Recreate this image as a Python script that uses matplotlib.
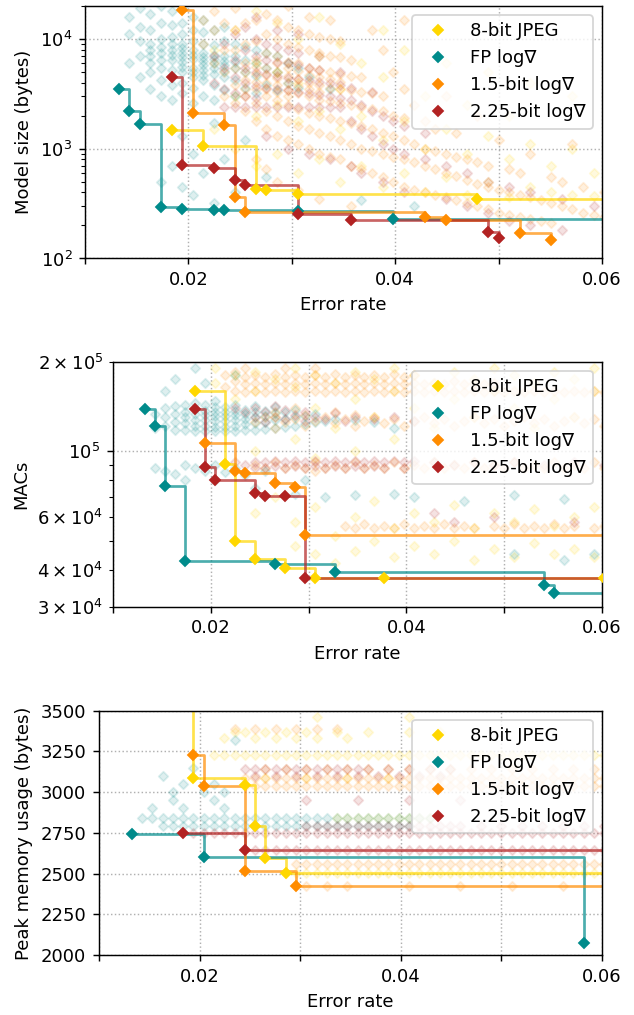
import matplotlib
matplotlib.use("Agg")
import matplotlib.pyplot as plt

DPI = 130
N_TEST = 980  # error rate = number of errors / N_TEST

labels = ["8-bit JPEG", "FP log\u2207", "1.5-bit log\u2207", "2.25-bit log\u2207"]
colors = ["#ffd700", "#008b8b", "#ff8c00", "#b22222"]

# ---------------- Pareto fronts (error counts, values) ----------------
# Model size (bytes)
size_jpeg_err = [18, 21, 26, 27, 30, 47]
size_jpeg_val = [1470, 1050, 429, 423, 386, 350]
size_fp_err = [13, 14, 15, 17, 19, 22, 23, 30, 39]
size_fp_val = [3500, 2190, 1680, 294, 282, 278, 278, 273, 230]
size_b15_err = [19, 20, 23, 24, 25, 42, 44, 51, 54]
size_b15_val = [18200, 2140, 1640, 367, 267, 238, 222, 170, 148]
size_b225_err = [18, 19, 22, 24, 25, 30, 35, 48, 49]
size_b225_val = [4470, 705, 662, 514, 467, 253, 222, 174, 154]
size_line_end = [62, 62, 54, 49]

# MACs (thousands)
macs_jpeg_err = [18, 21, 22, 24, 27, 30, 37, 59]
macs_jpeg_val = [160, 90.6, 50.0, 43.3, 40.4, 37.5, 37.5, 37.5]
macs_fp_err = [13, 14, 15, 17, 26, 32, 53, 54]
macs_fp_val = [138.7, 121.5, 76.4, 42.8, 41.8, 39.3, 35.6, 33.3]
macs_b15_err = [19, 22, 23, 26, 28, 29]
macs_b15_val = [106.4, 86.0, 84.3, 78.3, 76.0, 52.4]
macs_b225_err = [18, 19, 20, 24, 25, 27, 29]
macs_b225_val = [138.7, 88.3, 80.0, 72.6, 70.5, 70.5, 37.5]
macs_line_end = [62, 62, 62, 62]

# Peak memory usage (bytes)
mem_jpeg_err = [18, 19, 24, 25, 26, 28]
mem_jpeg_val = [3700, 3086, 3046, 2791, 2597, 2506]
mem_fp_err = [13, 20, 57]
mem_fp_val = [2746, 2601, 2072]
mem_b15_err = [19, 20, 24, 29]
mem_b15_val = [3225, 3035, 2516, 2424]
mem_b225_err = [18, 24]
mem_b225_val = [2750, 2644]
mem_line_end = [62, 57, 62, 62]

# ---------------- all evaluated models (faint cloud) ----------------
# model size: error count -> sizes
size_jpeg_cloud = {
    22: [1500, 8000], 24: [1000, 3000, 12000], 26: [700, 2000, 6000, 18000],
    28: [900, 2500, 5000, 14000], 30: [600, 1800, 4000, 10000],
    32: [800, 2200, 7000, 16000], 34: [500, 1500, 3500, 9000],
    36: [700, 2000, 6000], 38: [450, 1200, 4500, 12000], 40: [600, 1800, 8000],
    42: [400, 1000, 3000], 44: [550, 1500, 6000], 46: [380, 900, 2500],
    48: [500, 1300, 5000], 50: [360, 800, 2000], 52: [450, 1100, 4000],
    54: [400, 700], 56: [380, 1000, 3000], 58: [370, 600], 60: [360, 900],
}
size_fp_cloud = {
    14: [6000, 11000, 16000], 15: [4500, 7000, 9500, 13000, 19000],
    16: [3500, 5000, 7000, 9000, 12000, 17000, 6000, 8000],
    17: [3000, 4200, 5500, 7500, 10000, 14000, 20000, 500, 6500, 8500],
    18: [2800, 3800, 5200, 6500, 8000, 10500, 13500, 18000, 700, 4500, 7200, 9000],
    19: [3200, 4000, 5000, 6200, 7500, 9000, 11000, 14000, 19000, 450, 1300, 5600, 6800, 8200],
    20: [2600, 3600, 4500, 5500, 6600, 8000, 9500, 12000, 16000, 380, 900, 5000, 7200],
    21: [3000, 4200, 5200, 6300, 7500, 9000, 11500, 15000, 600, 4700, 5800, 6900],
    22: [2800, 3800, 4800, 6000, 7200, 8800, 12000, 320, 1700, 5400, 6600],
    23: [3400, 4500, 5800, 7000, 9500, 13000, 800, 5100, 6300],
    24: [3000, 4200, 5500, 7000, 9000, 400, 6200], 25: [3600, 5000, 6500, 8500, 1200],
    26: [3200, 4600, 6000, 8000], 27: [3800, 5500, 7500, 550],
    28: [3400, 5000, 7000], 29: [4000, 6000], 30: [3600, 5500, 260],
    31: [4500], 33: [3500], 36: [340], 41: [300],
}
size_b15_cloud = {
    21: [9000, 15000], 22: [6000, 12000, 18000], 23: [3000, 5000, 8000, 14000],
    24: [2600, 3800, 5500, 8000, 12000, 19000],
    25: [2200, 3000, 4200, 6000, 9000, 14000, 3500, 5000],
    26: [1800, 2600, 3500, 4800, 6500, 9500, 15000, 800, 4100, 5600],
    27: [1500, 2200, 3000, 4000, 5500, 7500, 11000, 17000, 650, 3500, 4700],
    28: [1300, 2000, 2800, 3800, 5000, 7000, 10000, 15000, 500, 3300, 4400, 6000],
    29: [1200, 1800, 2500, 3400, 4600, 6200, 9000, 13000, 20000, 3000, 4000, 5400],
    30: [1100, 1600, 2300, 3200, 4300, 6000, 8500, 12000, 420, 3700, 5100],
    31: [1000, 1500, 2100, 3000, 4000, 5500, 8000, 11000, 16000, 3500, 4700],
    32: [900, 1400, 2000, 2800, 3800, 5200, 7500, 10500, 350, 3300, 4500],
    33: [850, 1300, 1900, 2700, 3600, 5000, 7000, 10000, 15000, 4300],
    34: [800, 1200, 1800, 2600, 3500, 4800, 6800, 9500, 4100],
    35: [700, 1100, 1700, 2500, 3400, 4600, 6500, 300],
    36: [650, 1000, 1600, 2400, 3300, 4500], 37: [600, 950, 1500, 2300, 3200, 12000],
    38: [550, 900, 1400, 2200, 3000, 8000], 39: [500, 850, 1300, 2000, 5000],
    40: [450, 800, 1200, 1900, 3500, 15000], 41: [420, 750, 1100, 2500],
    42: [400, 700, 1000, 1800], 43: [380, 650, 950, 1500], 44: [360, 600, 900, 3000],
    45: [340, 560, 850, 1400], 46: [320, 520, 800], 47: [300, 480, 750, 2000],
    48: [280, 450, 700], 49: [260, 420, 1200], 50: [250, 400, 650],
    51: [240, 380, 600], 52: [230, 360, 900], 53: [220, 340], 54: [210, 320, 550],
    55: [300, 500], 56: [280, 1100], 57: [260, 450], 58: [250], 59: [240, 400],
}
size_b225_cloud = {
    22: [4000, 7000], 23: [2400, 3500, 5500, 9000], 24: [2400, 3200, 4500, 6500, 11000],
    25: [2400, 3000, 4000, 5500, 8000, 13000],
    26: [2400, 2900, 3700, 5000, 7000, 10000, 16000],
    27: [2400, 3600, 4800, 6500, 9000, 1300], 28: [2400, 3500, 4600, 6200, 8500, 12000],
    29: [2400, 3400, 4400, 6000, 8000, 1000], 30: [2400, 3300, 4300, 5800, 7500, 11000],
    31: [2400, 3200, 4200, 5500, 900], 32: [2400, 3100, 4100, 5200, 7000],
    33: [2400, 3000, 4000, 800], 34: [2400, 2900, 3800, 5000],
    35: [1800, 2800, 3600, 700], 36: [1500, 2500, 600], 37: [1300, 2200, 3300],
    38: [1100, 2000, 500], 39: [1000, 1800], 40: [900, 1600, 400], 42: [800, 1400],
    44: [700, 350], 46: [600, 300], 48: [500, 260], 50: [450, 220], 52: [400, 200],
    55: [350, 180], 58: [300],
}

# MACs (thousands): error count -> values
macs_jpeg_cloud = {
    20: [190, 170], 22: [180, 150], 24: [185, 160, 100, 62], 26: [175, 130, 70],
    28: [190, 165, 110, 58, 48], 30: [180, 140, 95, 65, 45], 32: [170, 120, 52, 42],
    34: [185, 150, 100, 60, 46], 36: [175, 130, 68, 50], 38: [190, 160, 110, 55, 44],
    40: [180, 140, 62, 48], 42: [170, 120, 58, 45], 44: [185, 150, 66, 50],
    46: [175, 130, 55, 43], 48: [190, 160, 62, 47], 50: [180, 140, 58, 44],
    52: [170, 120, 64, 49], 54: [185, 150, 56, 45], 56: [175, 130, 60, 47],
    58: [190, 160, 65, 44], 60: [180, 140, 58],
}
macs_fp_cloud = {
    14: [120, 133, 88], 15: [122, 130, 140, 160, 86], 16: [118, 125, 133, 142, 175, 84],
    17: [118, 124, 130, 136, 143, 90, 80], 18: [117, 122, 127, 133, 139, 145, 88, 190],
    19: [117, 122, 127, 132, 137, 143, 86, 170],
    20: [117, 121, 126, 131, 136, 141, 147, 90, 80],
    21: [117, 121, 126, 131, 136, 141, 85], 22: [117, 122, 127, 132, 137, 143, 88, 180],
    23: [118, 123, 128, 133, 138, 83], 24: [118, 124, 130, 136, 142, 75],
    25: [119, 125, 131, 137, 86], 26: [120, 127, 134, 141], 27: [121, 128, 135],
    28: [122, 130, 138, 72], 29: [123, 131, 80], 30: [125, 133], 31: [126, 70],
    32: [128], 34: [127, 71], 36: [125], 38: [120, 72], 40: [70], 45: [68],
    50: [71, 45], 55: [69, 43], 58: [45],
}
macs_b15_cloud = {
    21: [165, 180], 22: [160, 172, 185], 23: [158, 168, 178, 190],
    24: [160, 170, 180, 125, 90], 25: [158, 168, 178, 130, 88],
    26: [160, 170, 182, 120, 135, 92], 27: [158, 168, 178, 190, 125, 88],
    28: [160, 170, 180, 128, 140, 90], 29: [158, 168, 178, 122, 132, 88],
    30: [160, 170, 180, 190, 126, 92, 86], 31: [158, 168, 178, 130, 88],
    32: [160, 170, 182, 124, 136, 90], 33: [158, 168, 178, 128, 88, 56],
    34: [160, 170, 180, 122, 132, 92, 55], 35: [158, 168, 178, 126, 88, 57],
    36: [160, 170, 180, 130, 90, 55], 37: [158, 168, 178, 124, 88, 56],
    38: [160, 170, 182, 128, 92, 55], 39: [158, 168, 178, 122, 88, 57],
    40: [160, 170, 180, 126, 90, 55], 41: [158, 168, 130, 88, 56],
    42: [160, 170, 124, 92, 55], 43: [158, 168, 128, 88, 57],
    44: [160, 172, 122, 90, 55], 45: [158, 168, 126, 88, 56],
    46: [160, 170, 130, 92, 55], 47: [158, 168, 124, 88], 48: [160, 170, 128, 90, 56],
    49: [158, 122, 88, 55], 50: [160, 126, 92, 57], 51: [158, 130, 88, 55],
    52: [160, 124, 90, 56], 53: [158, 128, 88, 55], 54: [160, 122, 92, 57],
    55: [158, 126, 88, 55], 56: [160, 130, 90, 56], 57: [158, 124, 88],
    58: [160, 128, 92, 55], 59: [158, 122, 88, 56],
}
macs_b225_cloud = {
    22: [140, 92], 23: [135, 90], 24: [130, 140, 92, 88], 25: [125, 135, 92, 88],
    26: [130, 142, 93, 89], 27: [128, 138, 92, 88], 28: [132, 93, 89],
    29: [126, 136, 92, 88], 30: [130, 93, 89], 31: [128, 92, 88], 32: [134, 93, 89],
    33: [126, 92, 88], 34: [130, 93, 89], 35: [92, 88], 36: [128, 93, 89],
    37: [92, 88], 38: [130, 93], 39: [92, 88], 40: [126, 93], 42: [92, 62],
    44: [90, 58], 46: [92], 48: [90, 60], 50: [92], 53: [90], 56: [92, 58], 59: [90],
}

# peak memory: value -> error counts
mem_jpeg_cloud = {
    3460: [31, 40],
    3370: [23, 24, 26, 28, 30, 33, 36, 40, 43],
    3330: [22, 25, 27, 29, 31, 34],
    3225: [21, 22, 23, 24, 25, 26, 27, 28, 29, 30, 31, 32, 33, 34, 35, 36, 37, 38, 39, 40,
           41, 42, 43, 44, 45, 46, 47, 48, 49, 50, 51, 52, 53, 54, 55, 56, 57, 58, 59, 60],
    3086: [26, 30, 34, 38],
    2840: [33, 34, 35, 36, 37, 38, 39, 40, 41, 42],
    2506: [28, 29, 30, 31, 32, 33, 34, 35, 36, 37, 38, 39, 40, 41, 42, 43, 44, 45, 46,
           47, 48, 49, 50, 51, 52, 53, 54, 55, 56, 57, 58, 59, 60],
}
mem_fp_cloud = {
    3320: [23], 3150: [19], 3100: [16], 3050: [18, 21], 3000: [17, 20, 22],
    2950: [17, 21], 2900: [15, 18, 22], 2150: [60],
    2840: [14, 15, 16, 17, 18, 19, 20, 21, 22, 23, 24, 25, 26, 27, 28, 29, 30, 31, 32,
           33, 34, 35, 36, 37, 38, 39, 40, 41, 42],
    2790: [16, 17, 18, 19, 20, 21, 22, 23, 24, 25, 26, 27, 28, 29, 30, 31, 32, 33, 34,
           35, 36, 37, 38, 39, 40],
}
mem_b15_cloud = {
    3390: [23, 25, 27, 29, 31, 33],
    3140: [26, 28, 30, 32, 34, 36, 38, 40, 42, 44, 46, 48, 50, 52, 54, 56, 58, 60],
    3086: [24, 25, 26, 27, 28, 29, 30, 31, 32, 33, 34, 35, 36, 37, 38, 39, 40, 41, 42,
           43, 44, 45, 46, 47, 48, 49, 50, 51, 52, 53, 54, 55, 56, 57, 58, 59, 60],
    3035: [24, 25, 26, 27, 28, 29, 30, 31, 32, 33, 34, 35, 36, 37, 38, 39, 40, 41, 42,
           43, 44, 45, 46, 47, 48, 49, 50, 51, 52, 53, 54, 55, 56, 57, 58, 59, 60],
    2560: [29, 30, 31, 32, 33, 34, 35, 36, 37, 38, 39, 40, 41, 42, 43, 44, 45, 46, 47,
           48, 49, 50, 51, 52, 53, 54, 55, 56, 57, 58, 59],
    2424: [30, 32, 34, 40, 45, 50, 55],
}
mem_b225_cloud = {
    3140: [24, 25, 26, 27, 28, 29, 30, 31, 32, 33, 34, 35, 36, 38, 40, 42, 44],
    3100: [25, 27, 29, 31, 33, 35, 37, 39, 41, 43],
    2950: [30, 35, 40, 45],
    2791: [30, 31, 32, 33, 34, 35, 36, 37, 38, 39, 40, 41, 42, 43, 44, 45, 47, 49, 51,
           53, 55, 57, 59],
    2750: [19, 20, 21, 22, 23, 24, 25, 26, 27, 28, 29, 30, 31, 32, 33, 34, 35, 36, 37,
           38, 39, 40, 41, 42, 43, 44, 45, 46, 47, 48, 49, 50, 51, 52, 53, 54, 55, 56,
           57, 58, 59, 60],
    2644: [25, 26, 27, 28, 29, 30, 31, 32, 33, 34, 35, 36, 37, 38, 39, 40, 41, 42, 43,
           44, 45, 46, 47, 48, 49, 50, 51, 52, 53, 54, 55, 56, 57, 58, 59, 60],
}


def cloud_by_count(d, scale=1.0):
    xs, ys = [], []
    for k, vals in d.items():
        for v in vals:
            xs.append(k / N_TEST)
            ys.append(v * scale)
    return xs, ys


def cloud_by_value(d, scale=1.0):
    xs, ys = [], []
    for v, ks in d.items():
        for k in ks:
            xs.append(k / N_TEST)
            ys.append(v * scale)
    return xs, ys


def draw_panel(ax, clouds, fronts, line_end, scale=1.0):
    for (cx, cy), c in zip(clouds, colors):
        ax.scatter(cx, cy, s=14, marker="D", color=c, alpha=0.13,
                   linewidths=1.0, zorder=1)
    for (err, val), end, c, lab in zip(fronts, line_end, colors, labels):
        x = [e / N_TEST for e in err]
        y = [v * scale for v in val]
        ax.step(x + [end / N_TEST], y + [y[-1]], where="post", color=c,
                alpha=0.7, lw=1.5, zorder=2)
        ax.plot(x, y, linestyle="none", marker="D", color=c, ms=3.7, mew=1.0,
                zorder=3, label=lab)
    ax.set_xlim(0.01, 0.06)
    ax.set_xticks([0.01, 0.02, 0.03, 0.04, 0.05, 0.06],
                  ["", "0.02", "", "0.04", "", "0.06"])
    ax.grid(True, linestyle=":", color="#b0b0b0", lw=0.8)
    ax.set_axisbelow(True)
    ax.set_xlabel("Error rate")
    ax.legend(loc="upper right")


W, H = 634, 1015
fig = plt.figure(figsize=(W / DPI, H / DPI), dpi=DPI)


def add_ax(left, top, right, bottom):
    return fig.add_axes([left / W, 1 - bottom / H, (right - left) / W, (bottom - top) / H])


ax1 = add_ax(85, 6, 602, 258.5)
draw_panel(
    ax1,
    [cloud_by_count(size_jpeg_cloud), cloud_by_count(size_fp_cloud),
     cloud_by_count(size_b15_cloud), cloud_by_count(size_b225_cloud)],
    [(size_jpeg_err, size_jpeg_val), (size_fp_err, size_fp_val),
     (size_b15_err, size_b15_val), (size_b225_err, size_b225_val)],
    size_line_end)
ax1.set_yscale("log")
ax1.set_ylim(100, 20000)
ax1.set_ylabel("Model size (bytes)")

ax2 = add_ax(113, 361.7, 602, 606.7)
draw_panel(
    ax2,
    [cloud_by_count(macs_jpeg_cloud, 1e3), cloud_by_count(macs_fp_cloud, 1e3),
     cloud_by_count(macs_b15_cloud, 1e3), cloud_by_count(macs_b225_cloud, 1e3)],
    [(macs_jpeg_err, macs_jpeg_val), (macs_fp_err, macs_fp_val),
     (macs_b15_err, macs_b15_val), (macs_b225_err, macs_b225_val)],
    macs_line_end, scale=1e3)
ax2.set_yscale("log")
ax2.set_ylim(3e4, 2e5)
ax2.set_ylabel("MACs")

ax3 = add_ax(99, 710.7, 602, 955)
draw_panel(
    ax3,
    [cloud_by_value(mem_jpeg_cloud), cloud_by_value(mem_fp_cloud),
     cloud_by_value(mem_b15_cloud), cloud_by_value(mem_b225_cloud)],
    [(mem_jpeg_err, mem_jpeg_val), (mem_fp_err, mem_fp_val),
     (mem_b15_err, mem_b15_val), (mem_b225_err, mem_b225_val)],
    mem_line_end)
ax3.set_ylim(2000, 3500)
ax3.set_yticks([2000, 2250, 2500, 2750, 3000, 3250, 3500])
ax3.set_ylabel("Peak memory usage (bytes)")

fig.savefig("out.png", dpi=DPI)
